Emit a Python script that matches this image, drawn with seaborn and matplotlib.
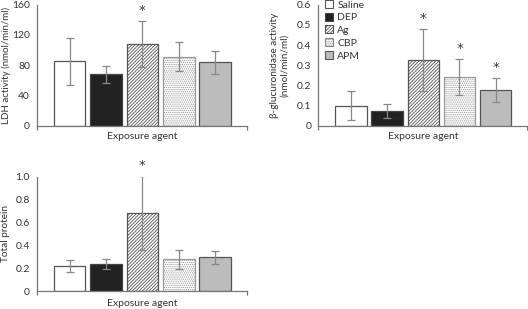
import matplotlib
matplotlib.use('Agg')
import matplotlib.pyplot as plt
import seaborn as sns
import pandas as pd
from matplotlib.patches import Patch

agents = ['Saline', 'DEP', 'Ag', 'CBP', 'APM']
ldh = [85, 68, 108, 91, 84]
ldh_err = [31, 11, 30, 19, 15]
gluc = [0.100, 0.073, 0.326, 0.240, 0.177]
gluc_err = [0.072, 0.036, 0.152, 0.089, 0.058]
prot = [0.219, 0.233, 0.685, 0.277, 0.295]
prot_err = [0.052, 0.044, 0.322, 0.082, 0.054]
sig_ldh = ['Ag']
sig_gluc = ['Ag', 'CBP', 'APM']
sig_prot = ['Ag']
ldh_ticks = [0, 40, 80, 120, 160]
gluc_ticks = [0, 0.1, 0.2, 0.3, 0.4, 0.5, 0.6]
gluc_ticklabels = ['0', '0.1', '0.2', '0.3', '0.4', '0.5', '0.6']
prot_ticks = [0, 0.2, 0.4, 0.6, 0.8, 1.0]
prot_ticklabels = ['0', '0.2', '0.4', '0.6', '0.8', '1.0']

faces = {'Saline': '#ffffff', 'DEP': '#222222', 'Ag': '#ffffff', 'CBP': '#ffffff', 'APM': '#bcbcbc'}
hatches = {'Saline': None, 'DEP': None, 'Ag': '//////////', 'CBP': '........', 'APM': None}
edges = {'Saline': '#555555', 'DEP': '#444444', 'Ag': '#555555', 'CBP': '#9a9a9a', 'APM': '#555555'}

sns.set_style('white')
plt.rcParams['font.family'] = ['Lato', 'DejaVu Sans']
plt.rcParams['font.size'] = 7.5
plt.rcParams['hatch.linewidth'] = 0.6

fig = plt.figure(figsize=(5.28, 3.09), dpi=100)
ax1 = fig.add_axes([0.070, 0.593, 0.398, 0.392])
ax2 = fig.add_axes([0.603, 0.593, 0.396, 0.392])
ax3 = fig.add_axes([0.070, 0.058, 0.398, 0.370])

TXT = '#333333'
AXC = '#777777'
FS = 7.5

def panel(ax, vals, errs, sig, ylim, ticks, ticklabels, ylabel, xlab_y, ylab_x, ylab_fs):
    df = pd.DataFrame({'agent': agents, 'val': vals})
    sns.barplot(data=df, x='agent', y='val', hue='agent', order=agents,
                hue_order=agents, palette=faces, legend=False, ax=ax,
                width=0.87, saturation=1, dodge=False)
    centers = []
    for p, a in zip(ax.patches, agents):
        p.set_edgecolor(edges[a])
        p.set_linewidth(0.9)
        if hatches[a]:
            p.set_hatch(hatches[a])
        centers.append(p.get_x() + p.get_width() / 2)
    ax.errorbar(centers, vals, yerr=errs, fmt='none', ecolor='#888888',
                elinewidth=0.9, capsize=3, capthick=0.9, zorder=5)
    for c, a, v, e in zip(centers, agents, vals, errs):
        if a in sig:
            ax.annotate('*', xy=(c, v + e), xytext=(0, 7.5), textcoords='offset points',
                        ha='center', va='center', fontsize=9.5, color=TXT,
                        family='DejaVu Sans', annotation_clip=False)
    ax.set_xlim(-0.9, 4.88)
    ax.set_ylim(*ylim)
    ax.set_xticks([-0.9, 4.88])
    ax.set_xticklabels(['', ''])
    ax.set_yticks(ticks)
    ax.set_yticklabels(ticklabels)
    ax.set_xlabel('Exposure agent', color=TXT, fontsize=FS)
    ax.xaxis.set_label_coords(0.5, xlab_y)
    ax.set_ylabel(ylabel, color=TXT, fontsize=ylab_fs, va='center', ha='center')
    ax.yaxis.set_label_coords(ylab_x, 0.5)
    for s in ['top', 'right']:
        ax.spines[s].set_visible(False)
    for s in ['left', 'bottom']:
        ax.spines[s].set_color(AXC)
        ax.spines[s].set_linewidth(0.9)
    ax.tick_params(axis='both', direction='out', length=3, width=0.9,
                   color=AXC, labelcolor=TXT, labelsize=FS, pad=2)
    ax.tick_params(axis='x', bottom=True)

w1 = 0.398 * 528
w2 = 0.396 * 528
panel(ax1, ldh, ldh_err, sig_ldh, (0, 160), ldh_ticks,
      [str(t) for t in ldh_ticks], 'LDH activity (nmol/min/ml)', -0.055,
      -(37 - 6) / w1, 7)
panel(ax2, gluc, gluc_err, sig_gluc, (0, 0.6), gluc_ticks, gluc_ticklabels,
      'β-glucuronidase activity\n(nmol/min/ml)', -0.055, -(318 - 279) / w2, 7.2)
panel(ax3, prot, prot_err, sig_prot, (0, 1.0), prot_ticks, prot_ticklabels,
      'Total protein', -0.065, -(37 - 6) / w1, 7.2)

handles = [Patch(facecolor=faces[a], edgecolor=edges[a] if a != 'CBP' else '#888888',
                 hatch=hatches[a], linewidth=0.8, label=a) for a in agents]
leg = ax2.legend(handles=handles, loc='upper left', bbox_to_anchor=(0.0, 1.09),
                 frameon=False, fontsize=FS, handlelength=0.8, handleheight=0.8,
                 handletextpad=0.4, labelspacing=0.3, borderaxespad=0.2)
for t in leg.get_texts():
    t.set_color(TXT)

fig.savefig('out.png', dpi=100)
